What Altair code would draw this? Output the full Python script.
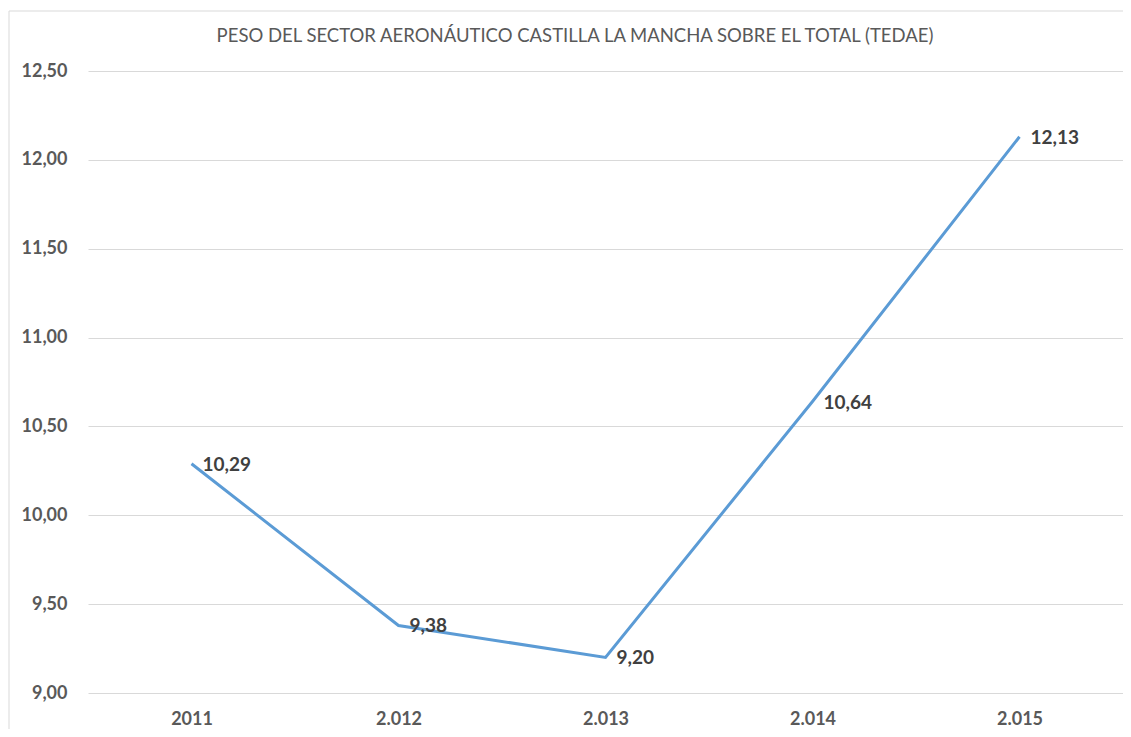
import altair as alt
import pandas as pd

years = ["2011", "2.012", "2.013", "2.014", "2.015"]
values = [10.29, 9.38, 9.20, 10.64, 12.13]
title_text = "PESO DEL SECTOR AERONÁUTICO CASTILLA LA MANCHA SOBRE EL TOTAL (TEDAE)"

df = pd.DataFrame({"year": years, "value": values})

W, H = 1035, 622
FONT = "Lato"

base = alt.Chart(df)

x = alt.X("year:N", sort=years, title=None,
          scale=alt.Scale(paddingOuter=0.5),
          axis=alt.Axis(labelAngle=0, labelFont=FONT, labelFontSize=18,
                        labelFontWeight="bold", labelColor="#595959",
                        labelPadding=17, ticks=False, domain=False, grid=False))
y = alt.Y("value:Q", title=None,
          scale=alt.Scale(domain=[9, 12.5], nice=False, zero=False),
          axis=alt.Axis(values=[9, 9.5, 10, 10.5, 11, 11.5, 12, 12.5],
                        labelExpr="replace(format(datum.value, '.2f'), '.', ',')",
                        labelFont=FONT, labelFontSize=18, labelFontWeight="bold",
                        labelColor="#595959", labelPadding=21, ticks=False,
                        domain=False, gridColor="#d9d9d9", gridWidth=1))

border = alt.Chart(pd.DataFrame({"a": [0]})).mark_rect(
    fill=None, stroke="#d9d9d9", strokeWidth=1, clip=False
).encode(x=alt.value(-79), x2=alt.value(1130), y=alt.value(-60), y2=alt.value(700))

title = alt.Chart(pd.DataFrame({"t": [title_text]})).mark_text(
    font=FONT, fontSize=18.5, color="#595959", align="center", baseline="middle", clip=False
).encode(x=alt.value(487), y=alt.value(-35), text="t:N")

line = base.mark_line(color="#5B9BD5", strokeWidth=3).encode(x=x, y=y)

labels = base.transform_calculate(
    lab="replace(format(datum.value, '.2f'), '.', ',')"
).mark_text(align="left", baseline="middle", dx=11, dy=1, font=FONT,
            fontSize=19, fontWeight="bold", color="#404040").encode(
    x=alt.X("year:N", sort=years), y="value:Q", text="lab:N")

chart = alt.layer(border, title, line, labels).properties(
    width=W, height=H,
    autosize=alt.AutoSizeParams(type="none"),
    padding={"left": 80, "top": 63, "right": 0, "bottom": 36},
).configure_view(stroke=None)

chart.save("out.html", embed_options={"renderer": "svg", "actions": False})
